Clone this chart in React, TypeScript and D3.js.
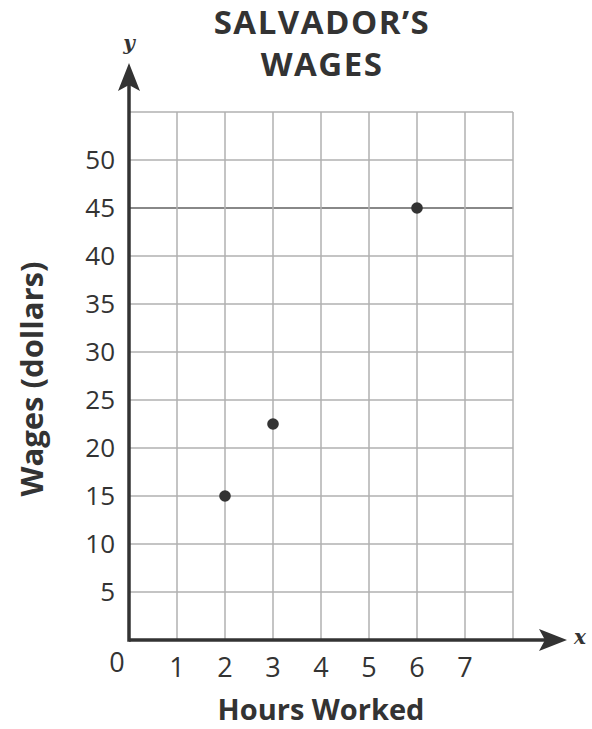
import React from "react";
import * as d3 from "d3";

const hours = [2, 3, 6];
const wages = [15, 22.5, 45];
const xTicks = [0, 1, 2, 3, 4, 5, 6, 7];
const yTicks = [5, 10, 15, 20, 25, 30, 35, 40, 45, 50];
const xGrid = [1, 2, 3, 4, 5, 6, 7, 8];
const yGrid = [5, 10, 15, 20, 25, 30, 35, 40, 45, 50, 55];
const title = ["SALVADOR\u2019S", "WAGES"];
const xTitle = "Hours Worked";
const yTitle = "Wages (dollars)";

export default function App() {
  const W = 592, H = 729;
  const x = d3.scaleLinear().domain([0, 8]).range([129, 513]);
  const y = d3.scaleLinear().domain([0, 55]).range([640, 112]);
  const dark = "#333";
  const font = "'Open Sans', 'Noto Sans', sans-serif";
  return (
    <svg width={W} height={H} style={{ position: "absolute", left: 0, top: 0, background: "#fff" }}>
      {yGrid.map((v) => (
        <line key={"h" + v} x1={x(0)} x2={x(8)} y1={y(v)} y2={y(v)}
          stroke={v === 45 ? "#888" : "#b0b0b0"} strokeWidth={v === 45 ? 2.2 : 1.5} />
      ))}
      {xGrid.map((v) => (
        <line key={"v" + v} x1={x(v)} x2={x(v)} y1={y(55)} y2={y(0)} stroke="#b0b0b0" strokeWidth={1.5} />
      ))}
      <line x1={x(0)} x2={548} y1={y(0)} y2={y(0)} stroke={dark} strokeWidth={3.5} />
      <line x1={x(0)} x2={x(0)} y1={y(0) + 1.75} y2={80} stroke={dark} strokeWidth={3.5} />
      <path d={`M567,${y(0)} L539,${y(0) - 11} L545,${y(0)} L539,${y(0) + 11} Z`} fill={dark} />
      <path d={`M${x(0)},63 L${x(0) - 11},91 L${x(0)},85 L${x(0) + 11},91 Z`} fill={dark} />
      <text x={580} y={y(0) + 4} fontFamily="'DejaVu Serif', serif" fontStyle="italic" fontWeight="bold"
        fontSize={20} fill={dark} textAnchor="middle">x</text>
      <text x={x(0)} y={50} fontFamily="'DejaVu Serif', serif" fontStyle="italic" fontWeight="bold"
        fontSize={20} fill={dark} textAnchor="middle">y</text>
      {yTicks.map((v) => (
        <text key={"yt" + v} x={115} y={y(v)} dy="0.36em" textAnchor="end" fontFamily={font}
          fontSize={26} fill={dark}>{v}</text>
      ))}
      {xTicks.map((v) => (
        <text key={"xt" + v} x={v === 0 ? 117 : x(v)} y={v === 0 ? 672 : 677} textAnchor="middle"
          fontFamily={font} fontSize={27} fill={dark}>{v}</text>
      ))}
      {hours.map((h, i) => (
        <circle key={"p" + i} cx={x(h)} cy={y(wages[i])} r={5.8} fill={dark} />
      ))}
      {title.map((t, i) => (
        <text key={"t" + i} x={322} y={34 + i * 42} textAnchor="middle" fontFamily={font}
          fontWeight="bold" fontSize={33} letterSpacing={1.5} fill={dark}>{t}</text>
      ))}
      <text x={321} y={720} textAnchor="middle" fontFamily={font} fontWeight="bold" fontSize={29} fill={dark}>{xTitle}</text>
      <text transform={`translate(43,379) rotate(-90)`} textAnchor="middle" fontFamily={font}
        fontWeight="bold" fontSize={31} fill={dark}>{yTitle}</text>
    </svg>
  );
}
